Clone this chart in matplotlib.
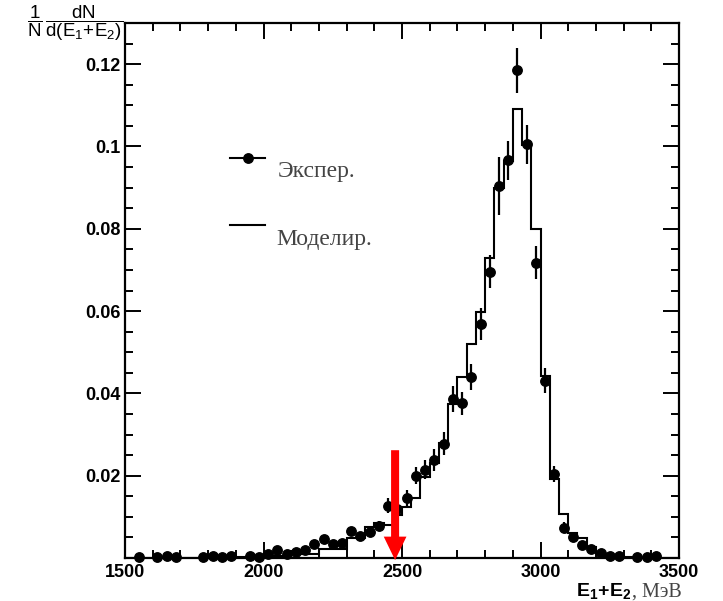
import numpy as np
import matplotlib
matplotlib.use('Agg')
import matplotlib.pyplot as plt
from matplotlib.patches import FancyArrow
from matplotlib.ticker import MultipleLocator

# ---------------- data ----------------
x_min, x_max = 1500, 3500
n_bins = 60

# experimental points (one per 33.3 MeV bin, None = no point)
exp_values = [
    None, 0.0002, None, 0.0003, 0.0006, 0.0003, None, None, 0.0002, 0.0005,
    0.0003, 0.0005, None, 0.0005, 0.0002, 0.0011, 0.0019, 0.0011, 0.0014, 0.0019,
    0.0034, 0.0047, 0.0033, 0.0037, 0.0065, 0.0053, 0.0063, 0.0079, 0.0127, 0.0120,
    0.0145, 0.0200, 0.0215, 0.0238, 0.0278, 0.0387, 0.0376, 0.0440, 0.0569, 0.0696,
    0.0904, 0.0966, 0.1185, 0.1005, 0.0718, 0.0431, 0.0204, 0.0074, 0.0052, 0.0032,
    0.0023, 0.0013, 0.0005, 0.0006, None, 0.0003, 0.0003, 0.0005, None, None,
]
exp_errors = [
    None, 0.0002, None, 0.0002, 0.0003, 0.0002, None, None, 0.0002, 0.0003,
    0.0002, 0.0003, None, 0.0003, 0.0002, 0.0004, 0.0005, 0.0004, 0.0004, 0.0005,
    0.0007, 0.0008, 0.0007, 0.0007, 0.0010, 0.0009, 0.0010, 0.0011, 0.0018, 0.0014,
    0.0020, 0.0020, 0.0024, 0.0026, 0.0028, 0.0032, 0.0028, 0.0032, 0.0039, 0.0041,
    0.0070, 0.0048, 0.0055, 0.0047, 0.0040, 0.0030, 0.0020, 0.0014, 0.0010, 0.0008,
    0.0006, 0.0005, 0.0003, 0.0003, None, 0.0002, 0.0002, 0.0003, None, None,
]
# simulated histogram
model_values = [
    0.0, 0.0, 0.0, 0.0, 0.0, 0.0, 0.0, 0.0, 0.0, 0.0002,
    0.0002, 0.0002, 0.0002, 0.0002, 0.0004, 0.0006, 0.0006, 0.0006, 0.0009, 0.0009,
    0.0009, 0.0023, 0.0023, 0.0023, 0.0048, 0.0048, 0.0075, 0.0085, 0.0080, 0.0105,
    0.0125, 0.0147, 0.0197, 0.0230, 0.0279, 0.0375, 0.0441, 0.0520, 0.0597, 0.0728,
    0.0900, 0.0965, 0.1090, 0.1003, 0.0800, 0.0442, 0.0191, 0.0108, 0.0062, 0.0049,
    0.0027, 0.0012, 0.0006, 0.0005, 0.0003, 0.0001, 0.0001, 0.0001, 0.0001, 0.0001,
]

x_ticks = [1500, 2000, 2500, 3000, 3500]
x_tick_labels = ['1500', '2000', '2500', '3000', '3500']
y_ticks = [0.02, 0.04, 0.06, 0.08, 0.10, 0.12]
y_tick_labels = ['0.02', '0.04', '0.06', '0.08', '0.1', '0.12']
legend_labels = ['Экспер.', 'Моделир.']
y_label = r'$\dfrac{1}{N}\,\dfrac{dN}{d(E_1\!+\!E_2)}$'
x_label_main = r'$\mathbf{E_1\!+\!E_2}$'
x_label_unit = ', МэВ'
arrow_x = 2475
arrow_top = 0.0262

# ---------------- style ----------------
plt.rcParams['mathtext.fontset'] = 'custom'
plt.rcParams['mathtext.rm'] = 'Liberation Sans'
plt.rcParams['mathtext.it'] = 'Liberation Sans'
plt.rcParams['mathtext.bf'] = 'Liberation Sans:bold'
plt.rcParams['font.family'] = ['Liberation Sans', 'DejaVu Sans']

fig = plt.figure(figsize=(7.23, 6.01), dpi=100)
ax = fig.add_axes([0.1729, 0.0715, 0.7663, 0.8902])

edges = np.linspace(x_min, x_max, n_bins + 1)
centers = 0.5 * (edges[:-1] + edges[1:])

ax.stairs(model_values, edges, color='black', lw=1.5, zorder=2)

exp = np.array([np.nan if v is None else v for v in exp_values], dtype=float)
err = np.array([np.nan if v is None else v for v in exp_errors], dtype=float)
mask = ~np.isnan(exp)
ax.errorbar(centers[mask], exp[mask], yerr=err[mask], fmt='o', color='black',
            ms=6.8, elinewidth=1.6, capsize=0, clip_on=False, zorder=3)

# red arrow
arrow = FancyArrow(arrow_x, arrow_top, 0, -(arrow_top + 0.0005),
                   width=29, head_width=82, head_length=0.0057,
                   length_includes_head=True, color='#ff0000', lw=0,
                   clip_on=False, zorder=5)
ax.add_patch(arrow)

ax.set_xlim(x_min, x_max)
ax.set_ylim(0, 0.13)
ax.set_xticks(x_ticks, labels=x_tick_labels, fontsize=13, fontweight='bold')
ax.set_yticks(y_ticks, labels=y_tick_labels, fontsize=13, fontweight='bold')
ax.xaxis.set_minor_locator(MultipleLocator(100))
ax.yaxis.set_minor_locator(MultipleLocator(0.005))
ax.tick_params(which='both', direction='in', top=True, right=True, width=1.4)
ax.tick_params(which='major', length=11.5)
ax.tick_params(which='minor', length=5.8)
ax.tick_params(axis='x', pad=4)
ax.tick_params(axis='y', pad=3)
for s in ax.spines.values():
    s.set_linewidth(1.6)

# legend (manual)
ax.plot([0.1895, 0.2527], [0.7477, 0.7477], color='black', lw=1.5,
        transform=ax.transAxes, clip_on=False)
ax.plot([0.222], [0.7477], 'o', color='black', ms=6.8, transform=ax.transAxes,
        clip_on=False)
ax.plot([0.1895, 0.2527], [0.6224, 0.6224], color='black', lw=1.5,
        transform=ax.transAxes, clip_on=False)
ax.text(0.276, 0.722, legend_labels[0], transform=ax.transAxes,
        family='Liberation Serif', fontsize=17, color='#444444', va='center', ha='left')
ax.text(0.2726, 0.596, legend_labels[1], transform=ax.transAxes,
        family='Liberation Serif', fontsize=17, color='#444444', va='center', ha='left')

# axis labels
fig.text(0.038, 0.995, y_label, fontsize=13.5, va='top', ha='left')
fig.text(0.797, 0.008, x_label_main, fontsize=14, va='baseline', ha='left')
fig.text(0.874, 0.008, x_label_unit, family='Liberation Serif', fontsize=14.5,
         color='#444444', va='baseline', ha='left')

fig.savefig('out.png', dpi=100, facecolor='white')
